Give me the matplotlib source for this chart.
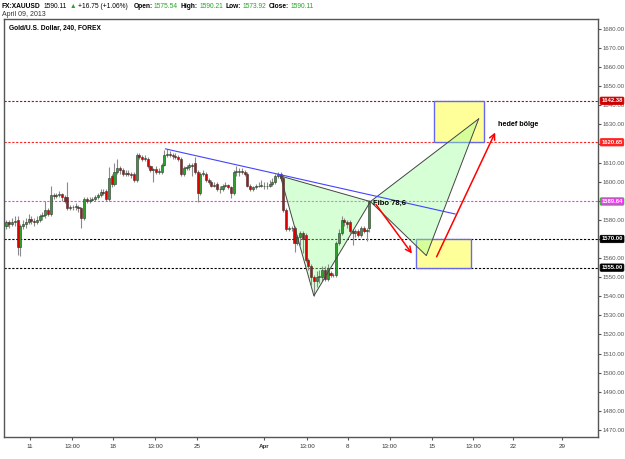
import numpy as np
import matplotlib
matplotlib.use("Agg")
import matplotlib.pyplot as plt
from matplotlib.patches import Rectangle, Polygon

plt.rcParams['font.family'] = ['Liberation Sans', 'DejaVu Sans']

# 4H candles (bar index, open, high, low, close)
opens = [1577, 1579, 1578, 1579, 1580, 1566, 1577, 1578, 1579, 1580.5,
         1579.5, 1579, 1580, 1582, 1582.5, 1585, 1583, 1593, 1592.5, 1593,
         1593.5, 1592, 1592, 1586, 1586.5, 1587, 1587, 1586, 1581, 1591,
         1590, 1590.5, 1591, 1592, 1593, 1594.5, 1595, 1591, 1603, 1599,
         1605, 1607, 1606, 1604, 1604.5, 1604, 1604, 1601, 1614, 1613,
         1612, 1612, 1608, 1606, 1606.5, 1605, 1605, 1609, 1614, 1614.5,
         1614, 1613.5, 1613, 1612, 1604, 1607, 1607.5, 1609, 1610, 1605,
         1594, 1604, 1604, 1601, 1600, 1598, 1599, 1596, 1596, 1598,
         1598.5, 1597, 1594, 1605, 1605, 1605.5, 1605, 1604, 1598, 1596,
         1597, 1597.5, 1598, 1598, 1597.5, 1598, 1599, 1600, 1603, 1604,
         1602, 1585, 1575, 1575.5, 1576, 1568, 1571, 1573, 1572, 1559,
         1556, 1550, 1548, 1550, 1550, 1554, 1549, 1552, 1551, 1551,
         1568, 1573, 1580, 1579, 1579, 1574, 1573, 1574, 1572, 1576,
         1574, 1575.54]
highs = [1580, 1580, 1581, 1582, 1582, 1578, 1580, 1581, 1583, 1582,
         1581, 1582, 1583, 1584, 1590, 1586, 1598, 1594, 1594, 1595,
         1594, 1593, 1600, 1588, 1588, 1589, 1588, 1587, 1592, 1592,
         1592, 1592, 1593, 1594, 1596, 1596, 1596, 1607.5, 1604, 1610,
         1612, 1608, 1607, 1606, 1606, 1605, 1605, 1615, 1615, 1614,
         1614, 1613, 1609, 1607, 1608, 1607, 1610, 1616.6, 1617, 1616,
         1615, 1615, 1614, 1613, 1608, 1609, 1610, 1610, 1613, 1606,
         1605, 1606, 1605, 1602, 1601, 1600, 1600, 1598, 1599, 1600,
         1599, 1598, 1606, 1608, 1607, 1607, 1606, 1605, 1599, 1598,
         1599, 1600, 1601, 1600, 1600, 1601, 1602, 1604, 1605, 1605,
         1603, 1586, 1577, 1577, 1577, 1572, 1574, 1574, 1573, 1560,
         1557, 1551, 1553, 1554, 1556, 1556, 1557, 1553, 1552, 1569,
         1575, 1582, 1581, 1580, 1580, 1575, 1575, 1575, 1577, 1577,
         1576, 1590.21]
lows = [1575, 1576, 1577, 1577, 1561.5, 1561, 1575, 1576, 1578, 1578,
        1577, 1578, 1579, 1580, 1581, 1582, 1582, 1591, 1591.5, 1592,
        1590, 1589, 1585, 1585, 1585, 1585, 1584, 1576, 1580, 1589,
        1589, 1590, 1590, 1591, 1592, 1593, 1590, 1590, 1597, 1598,
        1604, 1604, 1603, 1603, 1603, 1602, 1600, 1600, 1612, 1611,
        1611, 1607, 1605, 1600, 1604, 1604, 1604, 1608, 1613, 1613,
        1612, 1612, 1611, 1603, 1603, 1606, 1606, 1603, 1604, 1589.5,
        1593, 1603, 1600, 1599, 1597, 1597, 1595, 1594, 1595, 1597,
        1596, 1591.5, 1593, 1603, 1603, 1604, 1603, 1597, 1595, 1595,
        1596, 1597, 1597, 1596, 1596, 1597, 1598, 1599, 1602, 1601,
        1584, 1574, 1574, 1574, 1563, 1567, 1567, 1562.7, 1558, 1554,
        1546, 1540.2, 1545, 1547, 1548, 1548, 1548, 1550, 1550, 1550,
        1567, 1572, 1577, 1576, 1573, 1567, 1571, 1571, 1571, 1573,
        1569, 1573.92]
closes = [1579, 1578, 1579, 1579.5, 1566, 1577, 1578, 1579, 1580.5, 1579.5,
          1579, 1580, 1582, 1582.5, 1585, 1583, 1593, 1592.5, 1593, 1593.5,
          1592, 1590, 1586, 1586.5, 1587, 1587, 1586, 1581, 1591, 1590,
          1590.5, 1591, 1592, 1593, 1594.5, 1594, 1591, 1602, 1599, 1605,
          1607, 1606, 1604, 1604.5, 1604, 1603.5, 1601, 1614, 1613, 1612,
          1612.5, 1608, 1606, 1606.5, 1605, 1605.5, 1609, 1614, 1614.5, 1614,
          1613.5, 1613, 1612, 1604, 1607, 1607.5, 1609, 1608, 1605, 1594,
          1604, 1604, 1601, 1600, 1598, 1598.5, 1596, 1596, 1598, 1598.5,
          1597, 1594, 1605, 1605, 1605.5, 1605, 1604, 1598, 1596, 1597,
          1597.5, 1598, 1598, 1597.5, 1598, 1599, 1600, 1603, 1604, 1602,
          1585, 1575, 1575.5, 1576, 1568, 1571, 1573, 1570, 1559, 1556,
          1550, 1548, 1550, 1550.5, 1554, 1549, 1555, 1551, 1551, 1568,
          1573, 1580, 1579, 1578, 1574, 1573, 1574, 1572, 1576, 1574,
          1574.5, 1590.11]

# x axis tick positions (bar index) and labels
tick_pos = [8.5, 23.6, 38.5, 53.6, 68.7, 93, 108.5, 123.3, 138.4, 153.6, 168.4, 182.8, 200.5]
tick_lbl = ['11', '13:00', '18', '13:00', '25', 'Apr', '13:00', '8', '13:00', '15', '13:00', '22', '29']

# horizontal levels
levels = [1642.38, 1620.65, 1589.64, 1570.00, 1555.00]
level_colors = ['#cc0000', '#ff2222', '#ff33ff', '#000000', '#000000']
level_labels = ['1642.38', '1620.65', '1589.64', '1570.00', '1555.00']

# pattern points X, A, B, C, D
pat_x = [98.9, 111.0, 131.4, 151.6, 170.5]
pat_y = [1603.0, 1540.2, 1589.6, 1561.3, 1632.9]

trend_x = [57.4, 162.0]
trend_y = [1617.2, 1583.1]

fig = plt.figure(figsize=(6.25, 4.59), dpi=100)
ax = fig.add_axes([0.0064, 0.0479, 0.95, 0.9107])
ax.set_xlim(-0.9, 213.5)
ax.set_ylim(1466.3, 1685.2)

# candles
for i in range(len(closes)):
    o, h, l, c = opens[i], highs[i], lows[i], closes[i]
    ax.vlines(i, l, h, color='#8a8a8a', lw=0.8, zorder=2)
    col = '#2ca02c' if c >= o else '#dd0000'
    ax.add_patch(Rectangle((i - 0.38, min(o, c)), 0.76, max(abs(c - o), 0.4),
                           facecolor=col, edgecolor='#333333', lw=0.4, zorder=3))

# level lines
for lv, col in zip(levels, level_colors):
    ax.axhline(lv, color=col, lw=0.8, ls=(0, (2, 1.5)), zorder=1)

# yellow target boxes
ax.add_patch(Rectangle((154.5, 1620.65), 18.1, 1642.38 - 1620.65, facecolor='#ffff99',
                       edgecolor='#6666ee', lw=1, zorder=1))
ax.add_patch(Rectangle((147.9, 1555.0), 19.7, 1570.0 - 1555.0, facecolor='#ffff99',
                       edgecolor='#6666ee', lw=1, zorder=1))

# harmonic pattern triangles
ax.add_patch(Polygon(list(zip(pat_x[0:3], pat_y[0:3])), closed=True, facecolor='#99ff99',
                     alpha=0.4, edgecolor='none', zorder=1.5))
ax.add_patch(Polygon(list(zip(pat_x[2:5], pat_y[2:5])), closed=True, facecolor='#99ff99',
                     alpha=0.4, edgecolor='none', zorder=1.5))
ax.plot(pat_x, pat_y, color='#444444', lw=0.7, zorder=4)
ax.plot([pat_x[0], pat_x[2]], [pat_y[0], pat_y[2]], color='#444444', lw=0.7, zorder=4)
ax.plot([pat_x[2], pat_x[4]], [pat_y[2], pat_y[4]], color='#444444', lw=0.7, zorder=4)

# trend line
ax.plot(trend_x, trend_y, color='#4444ff', lw=0.8, zorder=4)

# red arrows
ax.annotate('', xy=(147.0, 1561.2), xytext=(132.8, 1589.3),
            arrowprops=dict(arrowstyle='->', color='#ff0000', lw=1.1), zorder=5)
ax.annotate('', xy=(176.9, 1627.1), xytext=(154.9, 1559.4),
            arrowprops=dict(arrowstyle='->', color='#ff0000', lw=1.1), zorder=5)

ax.text(132.2, 1588.6, 'Fibo 78,6', fontsize=5.5, fontweight='bold', va='center', ha='left', zorder=6)
ax.text(177.6, 1630.0, 'hedef bölge', fontsize=5.2, fontweight='bold', va='center', ha='left', zorder=6)

# axes styling
for s in ax.spines.values():
    s.set_color('#555555')
    s.set_linewidth(1)
ax.yaxis.tick_right()
ax.set_yticks(np.arange(1470, 1681, 10))
ax.set_yticklabels(['%.2f' % v for v in np.arange(1470, 1681, 10)])
ax.tick_params(axis='y', labelsize=4.4, colors='#555555', length=2, pad=1.5, labelcolor='#555555')
ax.set_xticks(tick_pos)
ax.set_xticklabels(tick_lbl)
ax.tick_params(axis='x', labelsize=4.5, colors='#555555', length=2, pad=3, labelcolor='#333333')
for t in ax.get_xticklabels():
    if t.get_text() == 'Apr':
        t.set_fontweight('bold')

# price labels on the right axis
for lv, col, lb in zip(levels, level_colors, level_labels):
    ec = '#00cc00' if col == '#ff33ff' else col
    ax.text(1.006, lv, lb, transform=ax.get_yaxis_transform(), fontsize=4.2, color='white',
            va='center', ha='left', fontweight='bold', zorder=10, clip_on=False,
            bbox=dict(boxstyle='round,pad=0.2', facecolor=col, edgecolor=ec, lw=0.6))

# header, laid out left to right
hdr = [('FX:XAUUSD', 'bold', 'black', 3), ('1590.11', 'normal', 'black', 3),
       ('\u25b2', 'normal', '#2ca02c', 2), ('+16.75 (+1.06%)', 'normal', 'black', 5),
       ('Open:', 'bold', 'black', 1.5), ('1575.54', 'normal', '#22aa22', 2.5),
       ('High:', 'bold', 'black', 1.5), ('1590.21', 'normal', '#22aa22', 2.5),
       ('Low:', 'bold', 'black', 1.5), ('1573.92', 'normal', '#22aa22', 2.5),
       ('Close:', 'bold', 'black', 1.5), ('1590.11', 'normal', '#22aa22', 2.5)]
renderer = fig.canvas.get_renderer()
px = 2
for s, w, c, gap in hdr:
    t = fig.text(px / 625, 1 - 6 / 459, s, fontsize=4.8, fontweight=w, color=c, va='center',
                 family=['Liberation Sans', 'DejaVu Sans'])
    px += t.get_window_extent(renderer).width + gap
fig.text(2 / 625, 1 - 14.5 / 459, 'April 09, 2013', fontsize=5.0, color='#333333', va='center')
ax.text(0.008, 0.985, 'Gold/U.S. Dollar, 240, FOREX', transform=ax.transAxes, fontsize=4.8,
        fontweight='bold', va='top')

fig.savefig('out.png', dpi=100)
